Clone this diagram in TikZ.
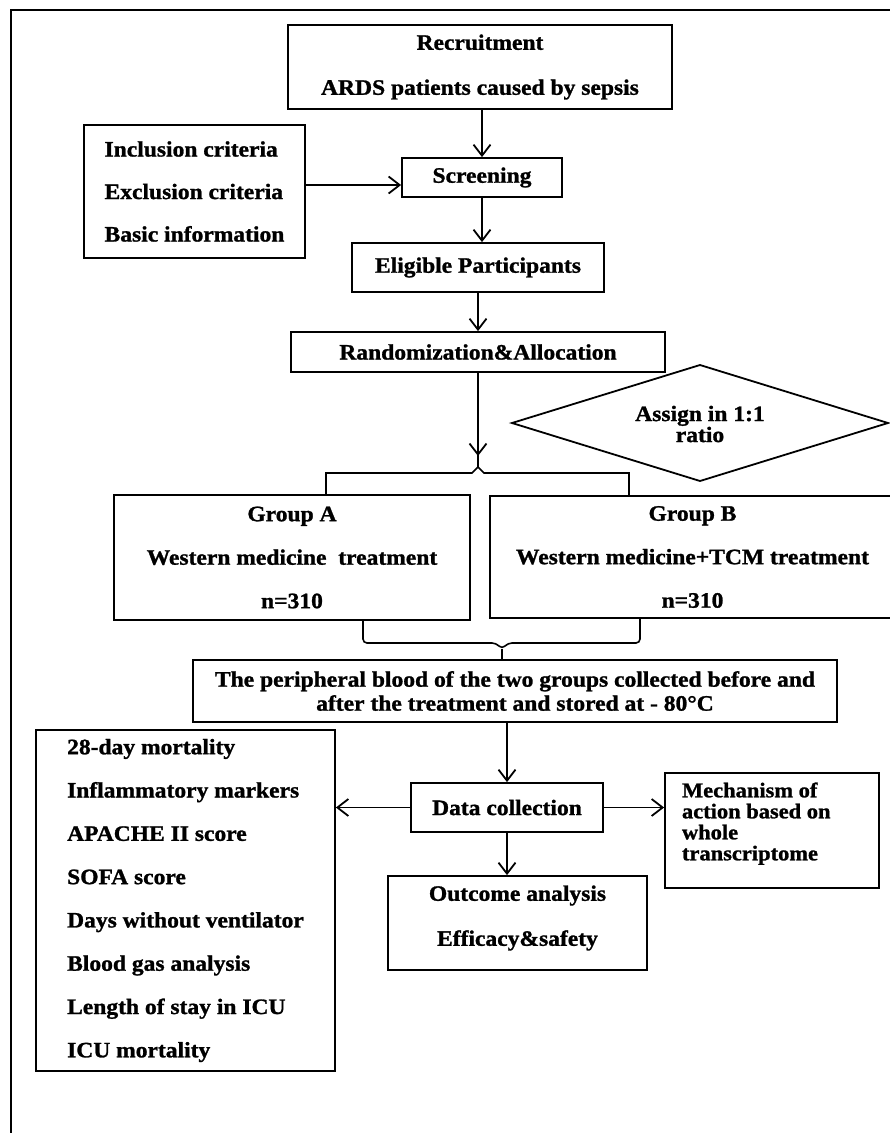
\documentclass[tikz,border=0pt]{standalone}
\usepackage{fontspec}
\setmainfont{Liberation Serif}[FakeStretch=1.07,BoldFeatures={FakeBold=1.2}]
\usetikzlibrary{arrows.meta,shapes.geometric}
\begin{document}
\begin{tikzpicture}[x=1pt,y=-1pt,line width=1.8pt,
  every node/.style={font=\bfseries\fontsize{22}{26}\selectfont},
  box/.style={draw,rectangle,inner sep=0pt},
  arr/.style={-{Straight Barb[length=11pt,width=17pt]}}]
\useasboundingbox (0,0) rectangle (890,1133);
\fill[white] (0,0) rectangle (890,1133);
% outer frame (right and bottom edges lie outside the picture)
\draw (11,1150) -- (11,10) -- (900,10);

\node[box,minimum width=384pt,minimum height=84pt,align=center] (rec) at (480,67)
  {Recruitment\\[19pt]ARDS patients caused by sepsis};
\node[box,minimum width=221pt,minimum height=133pt,align=left] (inc) at (194.5,191.5)
  {Inclusion criteria\\[16.5pt]Exclusion criteria\\[16.5pt]Basic information};
\node[box,minimum width=160pt,minimum height=39pt] (scr) at (482,177.5) {Screening};
\node[box,minimum width=252pt,minimum height=49pt] (eli) at (478,267.5) {Eligible Participants};
\node[box,minimum width=374pt,minimum height=40pt] (ran) at (478,352) {Randomization\&Allocation};
% decision diamond
\draw (512,423) -- (700,365) -- (888,423) -- (700,481) -- cycle;
\node[align=center,font=\bfseries\fontsize{22}{21}\selectfont] (dia) at (700,424) {Assign in 1:1\\ratio};

\node[box,minimum width=356pt,minimum height=125pt,align=center] (ga) at (292,557.5)
  {Group A\\[17.5pt]Western medicine\ \ treatment\\[17.5pt]n=310};
\node[box,minimum width=405pt,minimum height=122pt,align=center] (gb) at (692.5,557)
  {Group B\\[17.5pt]Western medicine+TCM treatment\\[17.5pt]n=310};

\node[box,minimum width=644pt,minimum height=62pt,align=center,font=\bfseries\fontsize{22}{24}\selectfont] (per) at (515,691)
  {The peripheral blood of the two groups collected before and\\after the treatment and stored at - 80°C};

\node[box,minimum width=299pt,minimum height=341pt,align=left] (lis) at (185.5,900.5)
  {28-day mortality\\[17.3pt]Inflammatory markers\\[17.3pt]APACHE II score\\[17.3pt]SOFA score\\[17.3pt]Days without ventilator\\[17.3pt]Blood gas analysis\\[17.3pt]Length of stay in ICU\\[17.3pt]ICU mortality};
\node[box,minimum width=192pt,minimum height=49pt] (dat) at (507,807.5) {Data collection};
\node[box,minimum width=214pt,minimum height=115pt] (mec) at (772,830.5)
  {\parbox[c][96pt][t]{180pt}{\raggedright\fontsize{21}{21}\selectfont Mechanism of\\action based on\\whole\\transcriptome}};
\node[box,minimum width=259pt,minimum height=94pt] (out) at (517.5,923)
  {\parbox[c][75pt][t]{259pt}{\centering Outcome analysis\\[19pt]Efficacy\&safety}};

% connectors
\draw[arr] (scr.north |- rec.south) -- (scr.north);
\draw[arr] ([yshift=6.5pt]inc.east) -- ([yshift=6.5pt]inc.east -| scr.west);
\draw[arr] (scr.south) -- (scr.south |- eli.north);
\draw[arr] (eli.south) -- (eli.south |- ran.north);
\coordinate (tb) at (478,467);
\draw (ran.south) -- (tb);
\draw[arr,shorten >=11pt] (ran.south) -- (tb);
\draw[line width=1.6pt] (326,495) -- (326,473) -- (472,473) -- (tb) -- (484,473) -- (629,473) -- (629,496);
\coordinate (bb) at (502,649);
\draw[line width=1.6pt,rounded corners=4pt] (363,620) -- (363,643) -- (496,643) -- (bb) -- (508,643) -- (640,643) -- (640,618);
\draw[line width=1.6pt] (bb) -- (bb |- per.north);
\draw[arr] (dat.north |- per.south) -- (dat.north);
\draw[arr] (dat.west) -- (dat.west -| lis.east);
\draw[arr] (dat.east) -- (dat.east -| mec.west);
\draw[arr] (dat.south) -- (dat.south |- out.north);
\end{tikzpicture}
\end{document}
